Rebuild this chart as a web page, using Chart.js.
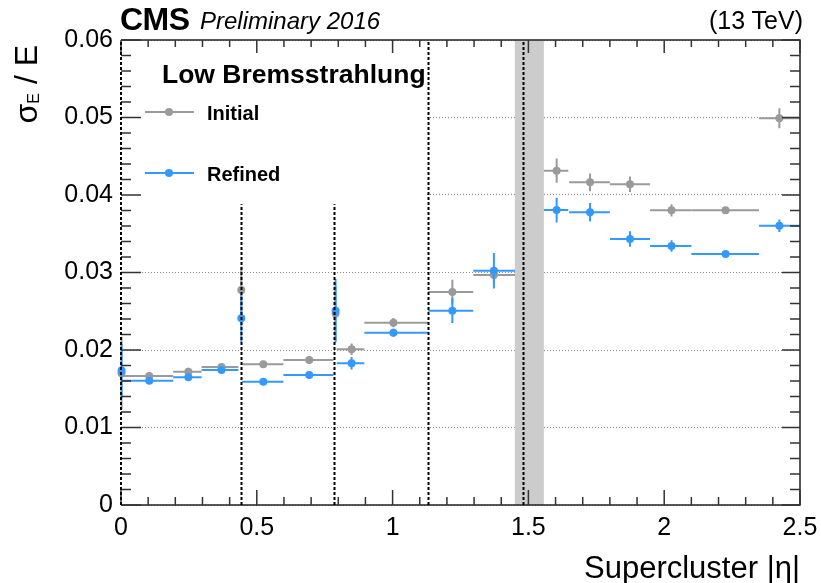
<!DOCTYPE html>
<html>
<head>
<meta charset="utf-8">
<script src="https://cdn.jsdelivr.net/npm/chart.js@4.4.0/dist/chart.umd.min.js"></script>
<style>
  html, body { margin: 0; padding: 0; background: #fff; overflow: hidden; }
  #wrap { position: relative; width: 821px; height: 583px; font-family: 'Liberation Sans', Arial, Helvetica, sans-serif; }
  #wrap canvas { position: absolute; left: 0; top: 0; }
  .lbl { position: absolute; line-height: 1; white-space: nowrap; color: #000; }
  #ytitle { left: 6px; top: 245px; width: 200px; height: 40px; line-height: 40px; font-size: 32px;
            text-align: right; transform-origin: 0 0; transform: rotate(-90deg); }
  #ytitle sub { font-size: 16px; line-height: 0; vertical-align: -2px; }
</style>
</head>
<body>
<div id="wrap">
  <canvas id="chart" width="821" height="583"></canvas>
  <div class="lbl" style="left:120px; top:3px; font-size:32px; font-weight:bold; letter-spacing:-0.5px;">CMS</div>
  <div class="lbl" style="left:200px; top:9px; font-size:24px; font-style:italic;">Preliminary 2016</div>
  <div class="lbl" style="right:18px; top:8px; font-size:25px;">(13 TeV)</div>
  <div class="lbl" id="ytitle">σ<sub>E</sub> / E</div>
  <div class="lbl" style="right:21px; top:552px; font-size:31px;">Supercluster |η|</div>
</div>
<script>
// bins in supercluster |eta|: point position and bin edges
const etaCenter = [0.002, 0.104, 0.248, 0.370, 0.443, 0.524, 0.693, 0.790, 0.849, 1.003,
                   1.220, 1.373, 1.604, 1.727, 1.874, 2.027, 2.226, 2.424];
const etaLow    = [0.000, 0.005, 0.192, 0.297, 0.437, 0.446, 0.598, 0.786, 0.794, 0.896,
                   1.131, 1.297, 1.557, 1.650, 1.800, 1.948, 2.100, 2.349];
const etaHigh   = [0.004, 0.192, 0.297, 0.432, 0.447, 0.598, 0.782, 0.793, 0.896, 1.131,
                   1.297, 1.451, 1.647, 1.800, 1.948, 2.100, 2.349, 2.500];

const initialValues = [0.0170, 0.01665, 0.0172, 0.0178, 0.02774, 0.01815, 0.01871, 0.0247, 0.0201,
                       0.02353, 0.02748, 0.02968, 0.04314, 0.04164, 0.04138, 0.03802, 0.03802, 0.0499];
const initialErrors = [0.0047, 0.0003, 0.0005, 0.0004, 0.0030, 0.0002, 0.0002, 0.0035, 0.00075,
                       0.0006, 0.0016, 0.0010, 0.00157, 0.00115, 0.0010, 0.0008, 0.0003, 0.0013];

const refinedValues = [0.01735, 0.01604, 0.01647, 0.01742, 0.02409, 0.0159, 0.01677, 0.02507, 0.01829,
                       0.02224, 0.02507, 0.03023, 0.03806, 0.03777, 0.03432, 0.03342, 0.03239, 0.03604];
const refinedErrors = [0.0035, 0.0003, 0.0003, 0.0003, 0.0031, 0.0002, 0.0002, 0.0041, 0.0008,
                       0.0005, 0.0016, 0.0023, 0.0016, 0.0012, 0.0010, 0.00075, 0.0003, 0.0008];

const xTickLabels = [0, 0.5, 1, 1.5, 2, 2.5];
const yTickLabels = [0, 0.01, 0.02, 0.03, 0.04, 0.05, 0.06];

// dotted region boundaries and the barrel/endcap gap
const boundaryEta = [0, 0.4407, 0.785, 1.131, 1.479];
const boundaryTop = [0.06, 0.0388, 0.0388, 0.06, 0.06];
const gapEta = [1.45, 1.557];

const GRAY = '#9a9a9a';
const BLUE = '#3399ff';
const FONT = "'Liberation Sans', Arial, Helvetica, sans-serif";

function toPoints(values) {
    return etaCenter.map((x, i) => ({ x: x, y: values[i] }));
}

// gap band and the white legend box go under the data
const backdrop = {
    id: 'backdrop',
    beforeDatasetsDraw(chart) {
        const { ctx, chartArea: a, scales: { x, y } } = chart;
        ctx.save();
        ctx.fillStyle = '#cccccc';
        const g0 = x.getPixelForValue(gapEta[0]);
        const g1 = x.getPixelForValue(gapEta[1]);
        ctx.fillRect(g0, a.top, g1 - g0, a.bottom - a.top);

        ctx.fillStyle = '#fff';
        ctx.fillRect(a.left + 1, a.top + 1, x.getPixelForValue(boundaryEta[3]) - a.left - 2,
                     y.getPixelForValue(boundaryTop[1]) - a.top - 1);
        ctx.restore();
    }
};

// horizontal bin width and vertical error for each point
const errorBars = {
    id: 'errorBars',
    beforeDatasetDraw(chart, args) {
        const ds = chart.data.datasets[args.index];
        const { ctx, scales: { x, y } } = chart;
        ctx.save();
        ctx.strokeStyle = ds.borderColor;
        ctx.lineWidth = 2;
        ds.data.forEach((p, i) => {
            const py = y.getPixelForValue(p.y);
            const px = x.getPixelForValue(p.x);
            ctx.beginPath();
            ctx.moveTo(x.getPixelForValue(etaLow[i]), py);
            ctx.lineTo(x.getPixelForValue(etaHigh[i]), py);
            ctx.moveTo(px, y.getPixelForValue(p.y - ds.yErr[i]));
            ctx.lineTo(px, y.getPixelForValue(p.y + ds.yErr[i]));
            ctx.stroke();
        });
        ctx.restore();
    }
};

// ROOT style frame: inner ticks on all sides, dotted boundaries, legend
const frame = {
    id: 'frame',
    afterDatasetsDraw(chart) {
        const { ctx, chartArea: a, scales: { x, y } } = chart;
        ctx.save();

        ctx.strokeStyle = '#222';
        ctx.lineWidth = 1.5;
        ctx.beginPath();
        ctx.moveTo(a.left, a.top);
        ctx.lineTo(a.right, a.top);
        ctx.lineTo(a.right, a.bottom);
        ctx.lineTo(a.left, a.bottom);
        ctx.stroke();

        ctx.strokeStyle = '#333';
        ctx.beginPath();
        for (let i = 0; i <= 25; i++) {
            const px = x.getPixelForValue(i / 10);
            const major = i % 5 === 0;
            ctx.moveTo(px, a.bottom);
            ctx.lineTo(px, a.bottom - (major ? 15 : 8));
            ctx.moveTo(px, a.top);
            ctx.lineTo(px, a.top + (major ? 13 : 7));
        }
        for (let i = 0; i <= 30; i++) {
            const py = y.getPixelForValue(i * 0.002);
            const major = i % 5 === 0;
            ctx.moveTo(a.left, py);
            ctx.lineTo(a.left + (major ? 20 : 10), py);
            ctx.moveTo(a.right, py);
            ctx.lineTo(a.right - (major ? 18 : 10), py);
        }
        ctx.stroke();

        ctx.strokeStyle = '#000';
        ctx.lineWidth = 2;
        ctx.setLineDash([3, 2]);
        boundaryEta.forEach((eta, i) => {
            const px = Math.round(x.getPixelForValue(eta)) + (i === 0 ? 0 : 0.5);
            ctx.beginPath();
            ctx.moveTo(px, a.bottom);
            ctx.lineTo(px, y.getPixelForValue(boundaryTop[i]));
            ctx.stroke();
        });
        ctx.setLineDash([]);

        // legend
        ctx.fillStyle = '#000';
        ctx.textBaseline = 'alphabetic';
        ctx.font = 'bold 26.5px ' + FONT;
        ctx.fillText('Low Bremsstrahlung', a.left + 41, a.top + 43);
        ctx.font = 'bold 20px ' + FONT;
        const entries = [['Initial', GRAY, 72], ['Refined', BLUE, 133]];
        entries.forEach(([text, color, dy]) => {
            const ly = a.top + dy;
            ctx.strokeStyle = color;
            ctx.lineWidth = 2;
            ctx.beginPath();
            ctx.moveTo(a.left + 24, ly);
            ctx.lineTo(a.left + 73, ly);
            ctx.stroke();
            ctx.fillStyle = color;
            ctx.beginPath();
            ctx.arc(a.left + 48, ly, 4, 0, Math.PI * 2);
            ctx.fill();
            ctx.fillStyle = '#000';
            ctx.fillText(text, a.left + 86, ly + 8);
        });
        ctx.restore();
    }
};

const ctx = document.getElementById('chart').getContext('2d');

new Chart(ctx, {
    type: 'scatter',
    data: {
        datasets: [
            {
                label: 'Refined',
                data: toPoints(refinedValues),
                yErr: refinedErrors,
                backgroundColor: BLUE,
                borderColor: BLUE,
                pointRadius: 4,
                pointBorderWidth: 0,
                clip: false,
                order: 0
            },
            {
                label: 'Initial',
                data: toPoints(initialValues),
                yErr: initialErrors,
                backgroundColor: GRAY,
                borderColor: GRAY,
                pointRadius: 4,
                pointBorderWidth: 0,
                clip: false,
                order: 1
            }
        ]
    },
    options: {
        responsive: false,
        animation: false,
        layout: { padding: { top: 40, right: 21, left: 0, bottom: 0 } },
        plugins: {
            legend: { display: false },
            tooltip: { enabled: false }
        },
        scales: {
            x: {
                type: 'linear',
                min: 0,
                max: 2.5,
                afterBuildTicks: s => { s.ticks = xTickLabels.map(v => ({ value: v })); },
                afterFit: s => { s.height = 78; },
                grid: { display: false },
                border: { display: false },
                ticks: {
                    font: { size: 25, family: FONT },
                    color: '#000',
                    padding: 0,
                    maxRotation: 0,
                    autoSkip: false,
                    callback: v => String(v)
                }
            },
            y: {
                type: 'linear',
                min: 0,
                max: 0.06,
                afterBuildTicks: s => { s.ticks = yTickLabels.map(v => ({ value: v })); },
                afterFit: s => { s.width = 121; },
                grid: { color: '#8a8a8a', lineWidth: 1, drawTicks: false },
                border: { display: false, dash: [1, 2] },
                ticks: {
                    font: { size: 25, family: FONT },
                    color: '#000',
                    padding: 8,
                    autoSkip: false,
                    callback: v => String(v)
                }
            }
        }
    },
    plugins: [backdrop, errorBars, frame]
});
</script>
</body>
</html>
